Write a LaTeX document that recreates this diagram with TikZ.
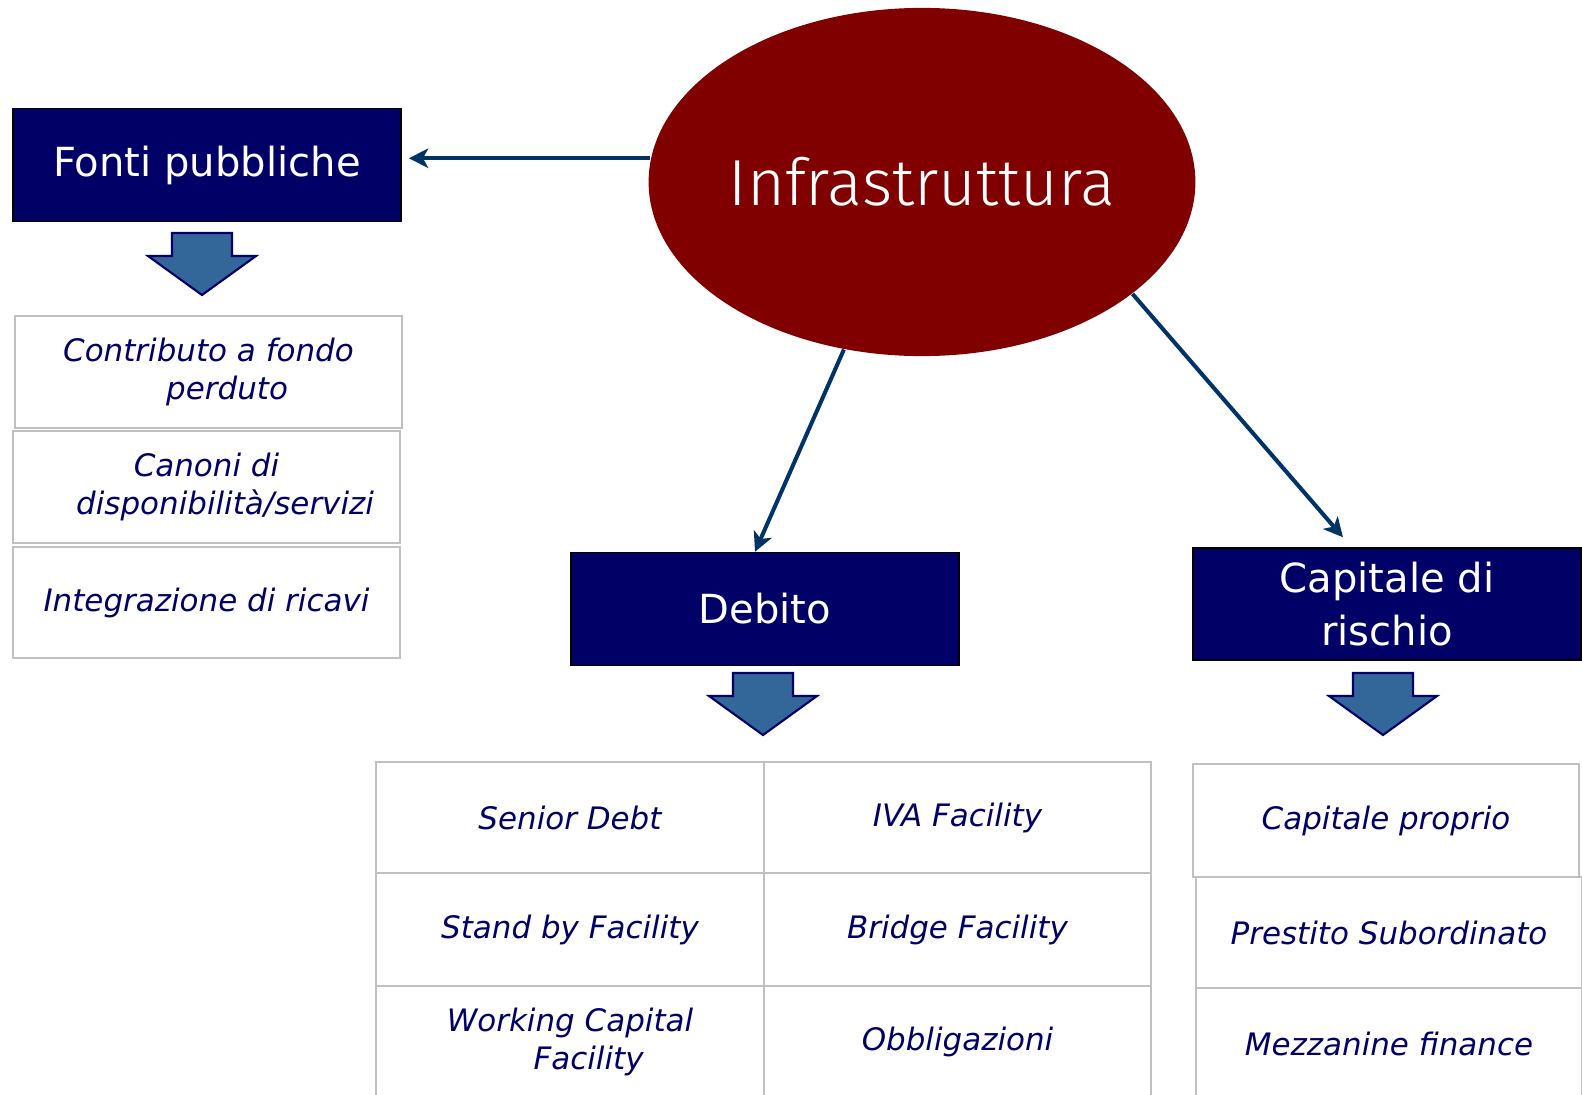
\documentclass[tikz,border=0pt]{standalone}
\usepackage{fontspec}
\setmainfont{DejaVu Sans}
\newfontfamily\sottile{Fira Sans Light}
\usetikzlibrary{shapes.geometric,arrows.meta}

\definecolor{blunotte}{RGB}{0,0,102}
\definecolor{bordeaux}{RGB}{128,0,0}
\definecolor{bluconn}{RGB}{0,51,102}
\definecolor{bluacciaio}{RGB}{51,102,153}
\definecolor{grigiobordo}{RGB}{192,192,192}

\begin{document}
\begin{tikzpicture}[x=0.01cm,y=-0.01cm,
    titolo/.style={draw=black,fill=blunotte,text=white,minimum width=3.88cm,minimum height=1.13cm,inner sep=0pt,align=center,font=\fontsize{11.4}{15}\selectfont},
    voce/.style={draw=grigiobordo,fill=white,text=blunotte,minimum width=3.87cm,minimum height=1.12cm,inner sep=0pt,align=center,font=\fontsize{8.8}{10.9}\selectfont\itshape},
    conn/.style={draw=bluconn,line width=1.15pt,-{Stealth[length=5.5pt,width=5.5pt,inset=1.5pt]}},
    freccia/.pic={\draw[draw=blunotte,fill=bluacciaio,line width=0.6pt] (-30,0) -- (30,0) -- (30,23) -- (54,23) -- (0,62) -- (-54,23) -- (-30,23) -- cycle;}]
        % Area del disegno
        \path[fill=white,use as bounding box] (0,0) rectangle (1582,1094);

        % Nodo centrale
        \node[ellipse,fill=bordeaux,minimum width=5.46cm,minimum height=3.48cm,inner sep=0pt,text=white,font=\sottile\fontsize{18.5}{20}\selectfont] (infra) at (922,182) {Infrastruttura};

        % Titoli
        \node[titolo] (fonti) at (207,165) {Fonti pubbliche};
        \node[titolo] (debito) at (765,609) {Debito};
        \node[titolo,minimum height=1.12cm] (capitale) at (1387,604) {Capitale di\\rischio};

        % Frecce dal nodo centrale
        \draw[conn,shorten >=2pt] (infra.175) -- (fonti.east |- infra.175);
        \draw[conn] (infra.245) -- ([xshift=-0.1cm]debito.north);
        \draw[conn] (infra.-28) -- ([xshift=-0.44cm,yshift=0.1cm]capitale.north);

        % Frecce verso il basso
        \pic at (202,233) {freccia};
        \pic at (763,673) {freccia};
        \pic at (1383,673) {freccia};

        % Fonti pubbliche
        \node[voce] (contributo) at (208.5,372) {Contributo a fondo\\\hspace*{1.2em}perduto};
        \node[voce] (canoni) at (206.5,487) {Canoni di\\\hspace*{1.2em}disponibilità/servizi};
        \node[voce,minimum height=1.11cm] (integrazione) at (206.5,602.5) {Integrazione di ricavi};

        % Debito
        \node[voce,minimum width=3.88cm,minimum height=1.11cm] (senior) at (570,817.5) {Senior Debt};
        \node[voce,minimum height=1.11cm] (iva) at (957.5,817.5) {IVA Facility};
        \node[voce,minimum width=3.88cm,minimum height=1.13cm] (standby) at (570,929.5) {Stand by Facility};
        \node[voce,minimum height=1.13cm] (bridge) at (957.5,929.5) {Bridge Facility};
        \node[voce,minimum width=3.88cm] (working) at (570,1042) {Working Capital\\\hspace*{1.2em}Facility};
        \node[voce] (obbligazioni) at (957.5,1042) {Obbligazioni};

        % Capitale di rischio
        \node[voce,minimum width=3.86cm,minimum height=1.13cm] (proprio) at (1386,820.5) {Capitale proprio};
        \node[voce,minimum width=3.86cm,minimum height=1.11cm] (prestito) at (1389,932.5) {Prestito Subordinato};
        \node[voce,minimum width=3.86cm] (mezzanine) at (1389,1044) {Mezzanine finance};
\end{tikzpicture}
\end{document}
